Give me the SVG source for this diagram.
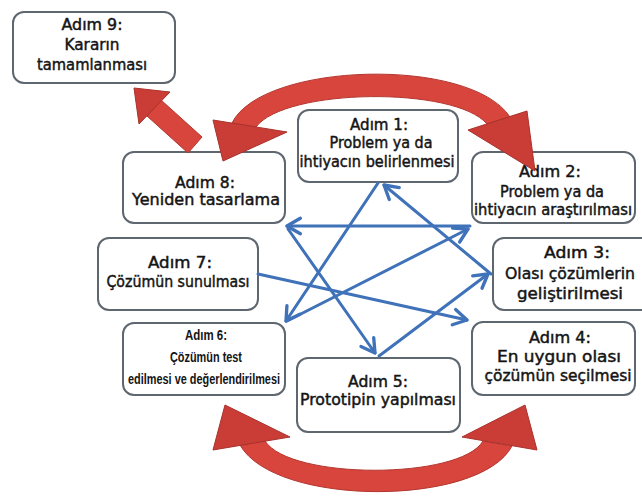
<svg xmlns="http://www.w3.org/2000/svg" width="642" height="496" viewBox="0 0 642 496">
  <defs>
    <style>
      .box { fill: #ffffff; stroke: #5e6670; stroke-width: 2; }
      .t { font-family: "DejaVu Sans", "Noto Sans", sans-serif; font-size: 15px; fill: #141414; stroke: #141414; stroke-width: 0.45; text-anchor: middle; }
      .n { font-family: "Liberation Sans", "DejaVu Sans", sans-serif; font-size: 14px; font-weight: bold; fill: #141414; text-anchor: middle; }
      .link { fill: none; stroke: #3f72b9; stroke-width: 3; stroke-linecap: round; }
      .red { fill: #d8453d; stroke: #b2362f; stroke-width: 1; stroke-linejoin: round; }
      .redhead { fill: #c93d36; stroke: #a9322c; stroke-width: 1; stroke-linejoin: round; }
    </style>
    <marker id="vhead" markerUnits="userSpaceOnUse" markerWidth="20" markerHeight="20" viewBox="-14 -9 16 18" refX="0" refY="0" orient="auto">
      <path d="M -12,-7 L 0,0 L -12,7" fill="none" stroke="#3f72b9" stroke-width="3" stroke-linecap="round" stroke-linejoin="round"/>
    </marker>
  </defs>

  <rect width="642" height="496" fill="#ffffff"/>

  <!-- step boxes -->
  <g id="adim9">
    <rect class="box" x="13" y="12" width="162" height="71" rx="11"/>
    <text class="t" x="92" y="30" textLength="61" lengthAdjust="spacingAndGlyphs">Adım 9:</text>
    <text class="t" x="92" y="50" textLength="55" lengthAdjust="spacingAndGlyphs">Kararın</text>
    <text class="t" x="92" y="70" textLength="110" lengthAdjust="spacingAndGlyphs">tamamlanması</text>
  </g>

  <g id="adim8">
    <rect class="box" x="123" y="152" width="162" height="71" rx="11"/>
    <text class="t" x="205" y="188" textLength="60" lengthAdjust="spacingAndGlyphs">Adım 8:</text>
    <text class="t" x="206" y="205" textLength="148" lengthAdjust="spacingAndGlyphs">Yeniden tasarlama</text>
  </g>

  <g id="adim1">
    <rect class="box" x="298" y="110" width="160" height="72" rx="11"/>
    <text class="t" x="379" y="130" textLength="58" lengthAdjust="spacingAndGlyphs">Adım 1:</text>
    <text class="t" x="381" y="148" textLength="103" lengthAdjust="spacingAndGlyphs">Problem ya da</text>
    <text class="t" x="377" y="167" textLength="155" lengthAdjust="spacingAndGlyphs">ihtiyacın belirlenmesi</text>
  </g>

  <g id="adim2">
    <rect class="box" x="472" y="152" width="163" height="71" rx="11"/>
    <text class="t" x="550" y="177" textLength="62" lengthAdjust="spacingAndGlyphs">Adım 2:</text>
    <text class="t" x="552" y="197" textLength="104" lengthAdjust="spacingAndGlyphs">Problem ya da</text>
    <text class="t" x="553" y="215" textLength="158" lengthAdjust="spacingAndGlyphs">ihtiyacın araştırılması</text>
  </g>

  <g id="adim7">
    <rect class="box" x="98" y="238" width="160" height="72" rx="11"/>
    <text class="t" x="180" y="268" textLength="64" lengthAdjust="spacingAndGlyphs">Adım 7:</text>
    <text class="t" x="178" y="287" textLength="143" lengthAdjust="spacingAndGlyphs">Çözümün sunulması</text>
  </g>

  <g id="adim3">
    <rect class="box" x="493" y="238" width="160" height="72" rx="11"/>
    <text class="t" x="577" y="258" textLength="66" lengthAdjust="spacingAndGlyphs">Adım 3:</text>
    <text class="t" x="570" y="279" textLength="130" lengthAdjust="spacingAndGlyphs">Olası çözümlerin</text>
    <text class="t" x="570" y="299" textLength="106" lengthAdjust="spacingAndGlyphs">geliştirilmesi</text>
  </g>

  <g id="adim6">
    <rect class="box" x="123" y="323" width="162" height="72" rx="11"/>
    <text class="n" x="206" y="340" textLength="42" lengthAdjust="spacingAndGlyphs">Adım 6:</text>
    <text class="n" x="206" y="362" textLength="72" lengthAdjust="spacingAndGlyphs">Çözümün test</text>
    <text class="n" x="204" y="384" textLength="152" lengthAdjust="spacingAndGlyphs">edilmesi ve değerlendirilmesi</text>
  </g>

  <g id="adim4">
    <rect class="box" x="472" y="322" width="163" height="73" rx="11"/>
    <text class="t" x="560" y="343" textLength="62" lengthAdjust="spacingAndGlyphs">Adım 4:</text>
    <text class="t" x="559" y="362" textLength="124" lengthAdjust="spacingAndGlyphs">En uygun olası</text>
    <text class="t" x="558" y="381" textLength="147" lengthAdjust="spacingAndGlyphs">çözümün seçilmesi</text>
  </g>

  <g id="adim5">
    <rect class="box" x="297" y="358" width="163" height="74" rx="11"/>
    <text class="t" x="378" y="387" textLength="60" lengthAdjust="spacingAndGlyphs">Adım 5:</text>
    <text class="t" x="378" y="405" textLength="156" lengthAdjust="spacingAndGlyphs">Prototipin yapılması</text>
  </g>

  <!-- links between steps -->
  <g id="connectors">
    <line class="link" x1="470" y1="226" x2="287" y2="226" marker-end="url(#vhead)"/>
    <line class="link" x1="378" y1="183" x2="286" y2="321" marker-end="url(#vhead)"/>
    <line class="link" x1="491" y1="274" x2="384" y2="185" marker-end="url(#vhead)"/>
    <line class="link" x1="288" y1="229" x2="375" y2="353" marker-end="url(#vhead)"/>
    <line class="link" x1="287" y1="321" x2="468" y2="229" marker-end="url(#vhead)"/>
    <line class="link" x1="258" y1="274" x2="467" y2="320" marker-end="url(#vhead)"/>
    <line class="link" x1="379" y1="356" x2="488" y2="274" marker-end="url(#vhead)"/>

    <!-- thick red arrows: 8 to 9, top double arc, bottom double arc -->
    <g id="arrow-8-9">
      <polygon class="red" points="202,137 188,153 147,116 161,100"/>
      <polygon class="redhead" points="134,88 170,92 139,124"/>
    </g>
    <g id="arc-top">
      <path class="red" d="M232,123 C262,62 470,56 510,117 L487,124 C455,86 285,88 256,127 Z"/>
      <polygon class="redhead" points="213,120 287,132 223,161"/>
      <polygon class="redhead" points="468,130 527,111 535,171"/>
    </g>
    <g id="arc-bottom">
      <path class="red" d="M240,445 C275,507 480,507 512,446 L483,441 C460,480 290,480 265,441 Z"/>
      <polygon class="redhead" points="225,405 213,450 290,437"/>
      <polygon class="redhead" points="525,405 462,437 537,450"/>
    </g>
  </g>
</svg>
